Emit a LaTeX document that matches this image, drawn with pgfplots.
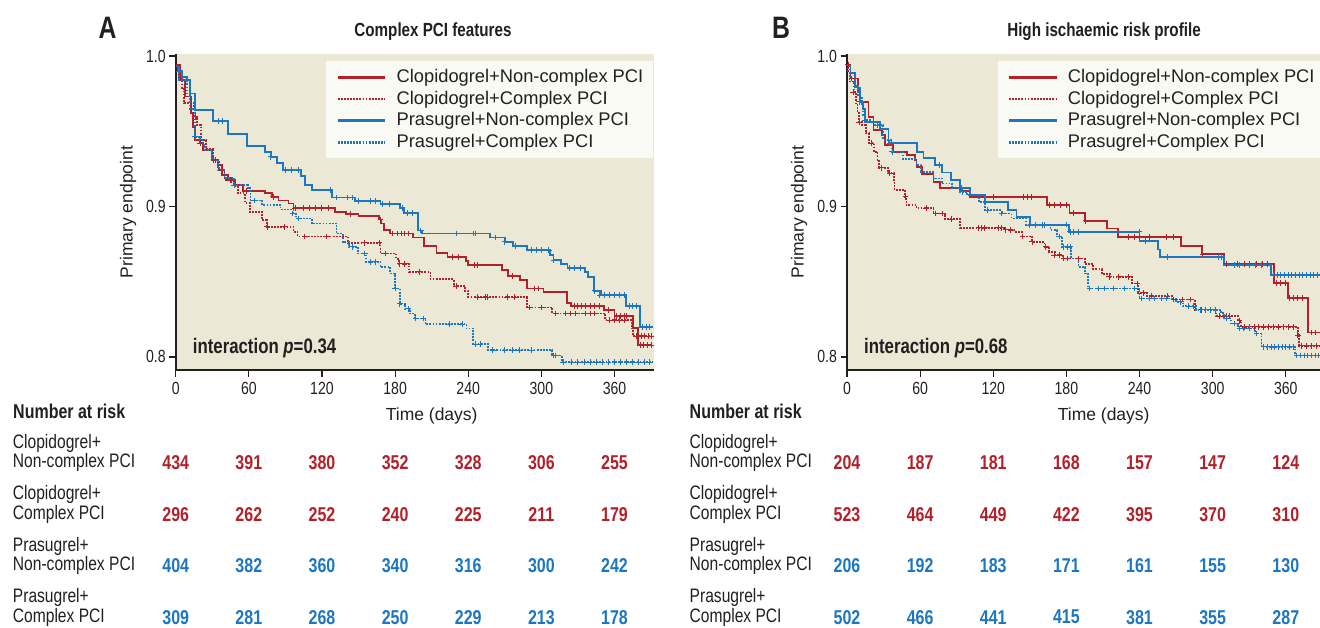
\documentclass[border=0pt]{standalone}
\usepackage{fontspec}
\setmainfont{Liberation Sans}
\newfontfamily\cond[FakeStretch=0.8]{Liberation Sans}
\usepackage{pgfplots}
\pgfplotsset{compat=1.18}

\definecolor{kred}{RGB}{178,32,42}
\definecolor{kblue}{RGB}{28,118,192}
\definecolor{bg}{RGB}{236,232,214}
\definecolor{legbg}{RGB}{250,250,245}
\definecolor{ink}{RGB}{35,31,32}

\pgfplotsset{
  kmaxis/.style={
    scale only axis, width=477.8pt, height=315.7pt,
    xmin=0, xmax=392, ymin=0.7913, ymax=1.0011,
    axis x line*=bottom, axis y line*=left,
    axis line style={ink, line width=1.8pt},
    axis background/.style={fill=bg},
    xtick={0,60,...,360}, ytick={0.8,0.9,1.0},
    tick align=outside, major tick length=6.5pt,
    tick style={ink, line width=1.2pt},
    ticklabel style={font=\cond\fontsize{17.6}{18}\selectfont, text=ink},
    xticklabel style={yshift=-2pt},
    /pgf/number format/assume math mode=true,
    yticklabel style={/pgf/number format/.cd, fixed, fixed zerofill, precision=1},
    legend style={at={(1,1)}, anchor=north east, yshift=-6.7pt, draw=none, fill=legbg,
      font=\fontsize{18.3}{21}\selectfont, text=ink, inner xsep=10pt, inner ysep=5.45pt,
      column sep=10pt, row sep=0pt,
      nodes={inner sep=0pt, text height=16.15pt, text depth=5.45pt}},
    legend cell align=left,
    legend image code/.code={\draw[##1, line width=2.6pt] (0pt,0pt) -- (47.6pt,0pt);},
  },
  cn/.style={kred, line width=1.8pt, const plot},
  cc/.style={kred, line width=1.8pt, const plot, dash pattern=on 1.8pt off 1.3pt},
  pn/.style={kblue, line width=1.8pt, const plot},
  pc/.style={kblue, line width=1.8pt, const plot, dash pattern=on 1.8pt off 1.3pt},
  cens/.style={only marks, mark=+, mark size=2.9pt, mark options={solid, line width=1pt}, forget plot},
  riskaxis/.style={scale only axis, width=477.8pt, height=206pt, xmin=0, xmax=392,
    ymin=0.5, ymax=4.5, y dir=reverse, hide axis, clip=false},
  risk/.style={draw=none, nodes near coords, point meta=explicit symbolic,
    nodes near coords align=center,
    every node near coord/.append style={font=\cond\bfseries\fontsize{20}{20}\selectfont, text=#1, inner sep=0pt, anchor=center}},
}

\begin{document}
\begin{tikzpicture}
% ================= PANEL A =================
\begin{axis}[kmaxis, at={(175.7pt,-370pt)}, anchor=south west]
\addplot[cn] coordinates {(0,0.994)(3.6,0.984)(7.7,0.973)(12.4,0.962)(14.5,0.953)(15.8,0.944)(19.9,0.942)(22.6,0.9375)(29.5,0.931)(35,0.9275)(37.7,0.921)(43,0.9175)(48.6,0.9142)(55.5,0.910)(73.3,0.9087)(78.8,0.9064)(84.3,0.904)(92.5,0.902)(96.6,0.8987)(130.8,0.8964)(140,0.895)(150,0.8935)(167,0.8913)(168.5,0.8887)(170.7,0.8842)(176,0.882)(195,0.8794)(203.6,0.8736)(214,0.869)(223,0.8665)(238,0.8636)(239.6,0.861)(268,0.8576)(272.8,0.854)(282.5,0.851)(288,0.8455)(301.7,0.8432)(321,0.836)(324,0.8337)(351.5,0.831)(360,0.8273)(375,0.8194)(379,0.8077)(391,0.8077)};
\addlegendentry{Clopidogrel+Non-complex PCI}
\addplot[cc] coordinates {(0,0.994)(3,0.985)(5,0.978)(7,0.9687)(15.2,0.9596)(17.4,0.954)(20.7,0.944)(25,0.938)(30.3,0.931)(35.7,0.924)(40,0.9175)(48,0.9135)(51,0.9087)(56.6,0.9024)(60.7,0.8964)(71,0.8909)(74.6,0.8864)(96.6,0.8831)(100,0.880)(141.5,0.8758)(168,0.8687)(181,0.865)(183.5,0.862)(191.5,0.8565)(209,0.8516)(228,0.847)(237.6,0.844)(240,0.8398)(288,0.8328)(309,0.8288)(352.5,0.8244)(374,0.8189)(375,0.8137)(391,0.8137)};
\addlegendentry{Clopidogrel+Complex PCI}
\addplot[pn] coordinates {(0,0.993)(2,0.99)(5,0.986)(9,0.984)(11.6,0.975)(15.8,0.964)(30.3,0.957)(43,0.948)(58.7,0.940)(73.3,0.936)(78,0.933)(83,0.929)(88,0.924)(102.6,0.920)(106,0.914)(111.5,0.911)(128,0.906)(147,0.9037)(168,0.9015)(184,0.8987)(187,0.8955)(199,0.884)(201.8,0.882)(257.8,0.8794)(270,0.8765)(277,0.8738)(288,0.871)(307,0.8676)(310,0.8643)(316,0.862)(321.5,0.8592)(335.5,0.8565)(338,0.853)(343.4,0.844)(348.9,0.841)(369.5,0.8337)(381,0.8199)(391.3,0.8199)};
\addlegendentry{Prasugrel+Non-complex PCI}
\addplot[pc] coordinates {(0,0.993)(3,0.984)(9,0.975)(12,0.965)(15.8,0.9463)(20,0.9443)(22,0.941)(24,0.9375)(30,0.931)(35,0.924)(40,0.9188)(48,0.914)(59,0.912)(61.4,0.904)(71,0.9009)(86,0.898)(96.6,0.8953)(99,0.892)(111.5,0.8887)(132,0.882)(137,0.8765)(142,0.8731)(149.5,0.8687)(156,0.8631)(168,0.8598)(176,0.8554)(180,0.8454)(184,0.8354)(188,0.832)(192,0.8288)(196,0.8255)(205,0.8217)(238.5,0.8189)(244,0.8084)(256.5,0.8044)(309,0.801)(317,0.7966)(391,0.7966)};
\addlegendentry{Prasugrel+Complex PCI}
% censoring marks
\addplot[cens, kred] coordinates {(20,0.942)(33,0.931)(45,0.9175)(58,0.910)(80,0.9064)(98,0.8987)(105,0.8987)(110,0.8987)(115,0.8987)(120,0.8987)(125,0.8987)(143,0.895)(168,0.8913)(178,0.882)(182,0.882)(185,0.882)(188,0.882)(191,0.882)(227,0.8665)(232,0.8665)(245,0.861)(248,0.861)(276,0.854)(294,0.8455)(298,0.8455)(327,0.8337)(330,0.8337)(333,0.8337)(336,0.8337)(340,0.8337)(344,0.8337)(348,0.8337)(355,0.831)(362,0.8273)(365,0.8273)(368,0.8273)(370,0.8273)(381,0.8077)(384,0.8077)(387,0.8077)(390,0.8077)};
\addplot[cens, kred] coordinates {(16,0.9596)(31,0.931)(46,0.9175)(75,0.8864)(89,0.8864)(106,0.880)(124,0.880)(155,0.8758)(167,0.8758)(172,0.8687)(184,0.862)(188,0.862)(200,0.8565)(230,0.847)(248,0.8398)(254,0.8398)(256,0.8398)(272,0.8398)(278,0.8398)(290,0.8328)(300,0.8328)(312,0.8288)(320,0.8288)(324,0.8288)(328,0.8288)(336,0.8288)(340,0.8288)(344,0.8288)(356,0.8244)(360,0.8244)(364,0.8244)(368,0.8244)(378,0.8137)(382,0.8137)(385,0.8137)(388,0.8137)(390,0.8137)};
\addplot[cens, kblue] coordinates {(3,0.99)(35,0.957)(38,0.957)(78,0.933)(90,0.924)(95,0.924)(101,0.924)(127,0.911)(132,0.906)(141,0.906)(145,0.906)(150,0.9037)(160,0.9037)(164,0.9037)(170,0.9015)(175,0.9015)(186,0.8987)(190,0.8955)(194,0.8955)(201,0.884)(230,0.882)(244,0.882)(246,0.882)(262,0.8794)(270,0.8765)(279,0.8738)(292,0.871)(296,0.871)(300,0.871)(306,0.871)(310,0.8643)(323,0.8592)(327,0.8592)(332,0.8592)(344,0.844)(348,0.841)(352,0.841)(356,0.841)(360,0.841)(364,0.841)(368,0.841)(372,0.8337)(375,0.8337)(378,0.8337)(383,0.8199)(386,0.8199)(389,0.8199)};
\addplot[cens, kblue] coordinates {(16,0.9463)(48,0.914)(65,0.904)(96,0.8953)(101,0.892)(145,0.8731)(155,0.8687)(160,0.8631)(164,0.8631)(180,0.8454)(184,0.8354)(191,0.832)(197,0.8255)(203,0.8255)(225,0.8217)(235,0.8217)(246,0.8084)(250,0.8084)(260,0.8044)(270,0.8044)(276,0.8044)(282,0.8044)(292,0.8044)(310,0.801)(312,0.801)(318,0.7966)(325,0.7966)(330,0.7966)(335,0.7966)(340,0.7966)(345,0.7966)(350,0.7966)(355,0.7966)(360,0.7966)(365,0.7966)(370,0.7966)(375,0.7966)(380,0.7966)(385,0.7966)(389,0.7966)};
\node[anchor=west, inner sep=0pt, text=ink, font=\cond\bfseries\fontsize{21}{21}\selectfont] at ([xshift=17pt,yshift=21.7pt]rel axis cs:0,0) {interaction \textit{p}=0.34};
\end{axis}

\begin{axis}[riskaxis, at={(175.7pt,-436.95pt)}, anchor=north west]
\addplot[risk=kred] coordinates {(0,1)[434] (60,1)[391] (120,1)[380] (180,1)[352] (240,1)[328] (300,1)[306] (360,1)[255]};
\addplot[risk=kred] coordinates {(0,2)[296] (60,2)[262] (120,2)[252] (180,2)[240] (240,2)[225] (300,2)[211] (360,2)[179]};
\addplot[risk=kblue] coordinates {(0,3)[404] (60,3)[382] (120,3)[360] (180,3)[340] (240,3)[316] (300,3)[300] (360,3)[242]};
\addplot[risk=kblue] coordinates {(0,4)[309] (60,4)[281] (120,4)[268] (180,4)[250] (240,4)[229] (300,4)[213] (360,4)[178]};
\end{axis}

% ================= PANEL B =================
\begin{axis}[kmaxis, at={(847pt,-370pt)}, anchor=south west]
\addplot[cn] coordinates {(0,0.994)(2.9,0.985)(8.8,0.976)(10.7,0.9696)(17.6,0.9596)(21.7,0.9508)(28.5,0.9474)(31.2,0.9408)(38,0.9363)(49,0.934)(55.8,0.9308)(57,0.9263)(61.4,0.9213)(71,0.9164)(76.4,0.9124)(92.8,0.910)(101,0.9064)(164,0.9009)(182.5,0.8957)(195,0.8904)(213,0.8853)(222.5,0.8798)(274,0.8736)(291,0.8683)(309.6,0.862)(350.6,0.8492)(361.6,0.8394)(378,0.8162)(391,0.8162)};
\addlegendentry{Clopidogrel+Non-complex PCI}
\addplot[cc] coordinates {(0,0.994)(1,0.99)(2,0.983)(6,0.976)(7.3,0.9674)(8.6,0.9619)(10,0.956)(12.6,0.954)(15.3,0.9486)(18,0.942)(22,0.9363)(25,0.931)(26.2,0.9257)(33.5,0.922)(38.4,0.9175)(39,0.911)(47.4,0.9064)(48.8,0.9009)(57,0.8987)(71,0.8953)(80.4,0.8915)(93,0.8858)(129,0.8845)(137,0.8831)(144,0.880)(152,0.8765)(162,0.8731)(166,0.8698)(170.5,0.8676)(177,0.8654)(195,0.8616)(202,0.8583)(209,0.855)(215.5,0.8532)(233.6,0.8488)(239,0.8425)(246,0.8403)(266.5,0.8381)(285.5,0.8314)(303,0.827)(320.8,0.8239)(323.5,0.8199)(370,0.8144)(371,0.8073)(391,0.8073)};
\addlegendentry{Clopidogrel+Complex PCI}
\addplot[pn] coordinates {(0,0.994)(2.9,0.9885)(6.6,0.9796)(8.8,0.9785)(10.7,0.9696)(13.4,0.965)(14.8,0.956)(27,0.9514)(34,0.942)(57.4,0.9363)(62.8,0.932)(72.4,0.9275)(78,0.9226)(85.6,0.9175)(93,0.912)(101,0.9075)(113,0.9027)(132,0.8975)(139,0.893)(150,0.8876)(182,0.8831)(240,0.8771)(255,0.8714)(257,0.8665)(309.6,0.861)(348,0.8543)(391,0.8543)};
\addlegendentry{Prasugrel+Non-complex PCI}
\addplot[pc] coordinates {(0,0.994)(2.2,0.985)(7,0.98)(9.2,0.973)(12,0.967)(13.4,0.9607)(14.8,0.9574)(23,0.954)(29.7,0.9441)(36.5,0.9363)(46,0.9315)(57,0.9275)(61,0.923)(71,0.9186)(78,0.9153)(86,0.9124)(93,0.9097)(98.4,0.9075)(108,0.903)(113,0.8975)(127,0.8953)(135,0.892)(147,0.8876)(167,0.8842)(172.5,0.880)(176.7,0.8731)(184,0.8654)(190,0.8598)(195.5,0.8554)(198,0.8454)(240,0.8388)(270,0.8365)(275.5,0.8337)(286.4,0.8314)(307,0.8292)(309.6,0.8255)(315,0.8222)(320.8,0.8189)(334.4,0.8155)(340,0.8066)(367.5,0.801)(391,0.801)};
\addlegendentry{Prasugrel+Complex PCI}
\addplot[cens, kred] coordinates {(1,0.994)(4,0.985)(95,0.910)(120,0.9064)(145,0.9064)(148,0.9064)(151,0.9064)(166,0.9009)(170,0.9009)(175,0.9009)(180,0.9009)(186,0.8957)(196,0.8904)(231,0.8798)(236,0.8798)(240,0.8798)(248,0.8798)(262,0.8798)(268,0.8798)(292,0.8683)(311,0.862)(320,0.862)(326,0.862)(330,0.862)(336,0.862)(341,0.862)(345,0.862)(352,0.8492)(356,0.8492)(360,0.8492)(363,0.8394)(366,0.8394)(370,0.8394)(374,0.8394)(381,0.8162)(384,0.8162)(389,0.8162)};
\addplot[cens, kred] coordinates {(5,0.976)(10,0.956)(20,0.942)(28,0.9257)(35,0.922)(48,0.9064)(65,0.8987)(73,0.8953)(78,0.8953)(86,0.8915)(108,0.8858)(110,0.8858)(113,0.8858)(124,0.8858)(127,0.8858)(130,0.8845)(134,0.8845)(144,0.880)(152,0.8765)(163,0.8731)(170,0.8676)(174,0.8676)(178,0.8654)(181,0.8654)(190,0.8654)(215,0.8532)(223,0.8532)(231,0.8532)(238,0.8488)(243,0.8425)(250,0.8403)(263,0.8403)(268,0.8381)(275,0.8381)(282,0.8381)(291,0.8314)(294,0.8314)(306,0.827)(311,0.827)(314,0.827)(322,0.8239)(326,0.8199)(330,0.8199)(334,0.8199)(338,0.8199)(342,0.8199)(346,0.8199)(350,0.8199)(354,0.8199)(358,0.8199)(362,0.8199)(366,0.8199)(370,0.8144)(373,0.8073)(377,0.8073)(381,0.8073)(385,0.8073)(389,0.8073)};
\addplot[cens, kblue] coordinates {(10,0.9696)(35,0.942)(76,0.9275)(94,0.912)(180,0.888)(183,0.8831)(186,0.8831)(190,0.8831)(240,0.8831)(245,0.8771)(263,0.8665)(305,0.8665)(307,0.8665)(318,0.861)(322,0.861)(330,0.861)(335,0.861)(340,0.861)(350,0.8543)(353,0.8543)(356,0.8543)(359,0.8543)(362,0.8543)(365,0.8543)(368,0.8543)(371,0.8543)(374,0.8543)(377,0.8543)(380,0.8543)(383,0.8543)(386,0.8543)(389,0.8543)};
\addplot[cens, kblue] coordinates {(15,0.9574)(25,0.954)(37,0.9363)(95,0.9097)(115,0.8975)(127,0.8953)(150,0.8876)(155,0.8876)(160,0.8876)(162,0.8876)(174,0.880)(178,0.8731)(181,0.8731)(183,0.8731)(199,0.8454)(206,0.8454)(211,0.8454)(219,0.8454)(228,0.8454)(236,0.8454)(242,0.8388)(248,0.8388)(252,0.8388)(258,0.8388)(262,0.8388)(274,0.8365)(280,0.8337)(284,0.8337)(290,0.8314)(294,0.8314)(298,0.8314)(302,0.8314)(311,0.8255)(318,0.8222)(322,0.8189)(325,0.8189)(330,0.8189)(336,0.8155)(342,0.8066)(345,0.8066)(348,0.8066)(351,0.8066)(354,0.8066)(357,0.8066)(360,0.8066)(363,0.8066)(366,0.8066)(369,0.801)(372,0.801)(375,0.801)(378,0.801)(381,0.801)(384,0.801)(387,0.801)(390,0.801)};
\node[anchor=west, inner sep=0pt, text=ink, font=\cond\bfseries\fontsize{21}{21}\selectfont] at ([xshift=17pt,yshift=21.7pt]rel axis cs:0,0) {interaction \textit{p}=0.68};
\end{axis}

\begin{axis}[riskaxis, at={(847pt,-436.95pt)}, anchor=north west]
\addplot[risk=kred] coordinates {(0,1)[204] (60,1)[187] (120,1)[181] (180,1)[168] (240,1)[157] (300,1)[147] (360,1)[124]};
\addplot[risk=kred] coordinates {(0,2)[523] (60,2)[464] (120,2)[449] (180,2)[422] (240,2)[395] (300,2)[370] (360,2)[310]};
\addplot[risk=kblue] coordinates {(0,3)[206] (60,3)[192] (120,3)[183] (180,3)[171] (240,3)[161] (300,3)[155] (360,3)[130]};
\addplot[risk=kblue] coordinates {(0,4)[502] (60,4)[466] (120,4)[441] (180,4)[415] (240,4)[381] (300,4)[355] (360,4)[287]};
\end{axis}

% ================= TEXT =================
\begin{scope}[every node/.style={text=ink, inner sep=0pt}]
\node[font=\cond\bfseries\fontsize{31}{31}\selectfont] at (107.6pt,-28.3pt) {A};
\node[font=\cond\bfseries\fontsize{31}{31}\selectfont] at (781pt,-28.3pt) {B};
\node[font=\cond\bfseries\fontsize{19}{19}\selectfont] at (433pt,-31.7pt) {Complex PCI features};
\node[font=\cond\bfseries\fontsize{19}{19}\selectfont] at (1104pt,-31.7pt) {High ischaemic risk profile};
\node[rotate=90, font=\fontsize{17.5}{18}\selectfont] at (128pt,-212pt) {Primary endpoint};
\node[rotate=90, font=\fontsize{17.5}{18}\selectfont] at (799pt,-212pt) {Primary endpoint};
\node[font=\fontsize{17.5}{18}\selectfont] at (431.7pt,-416pt) {Time (days)};
\node[font=\fontsize{17.5}{18}\selectfont] at (1103.7pt,-416pt) {Time (days)};
\node[anchor=west, font=\cond\bfseries\fontsize{20}{20}\selectfont] at (13pt,-411.7pt) {Number at risk};
\node[anchor=west, font=\cond\bfseries\fontsize{20}{20}\selectfont] at (689.5pt,-411.7pt) {Number at risk};
\foreach \xx in {12.7pt, 689.5pt} {
  \node[anchor=west, align=left, font=\cond\fontsize{19.5}{19.4}\selectfont] at (\xx,-453pt) {Clopidogrel+\\Non-complex PCI};
  \node[anchor=west, align=left, font=\cond\fontsize{19.5}{19.4}\selectfont] at (\xx,-504.5pt) {Clopidogrel+\\Complex PCI};
  \node[anchor=west, align=left, font=\cond\fontsize{19.5}{19.4}\selectfont] at (\xx,-556pt) {Prasugrel+\\Non-complex PCI};
  \node[anchor=west, align=left, font=\cond\fontsize{19.5}{19.4}\selectfont] at (\xx,-607.5pt) {Prasugrel+\\Complex PCI};
}
\end{scope}
\pgfresetboundingbox
\path[use as bounding box] (0pt,0pt) rectangle (1320pt,-628pt);
\end{tikzpicture}
\end{document}
